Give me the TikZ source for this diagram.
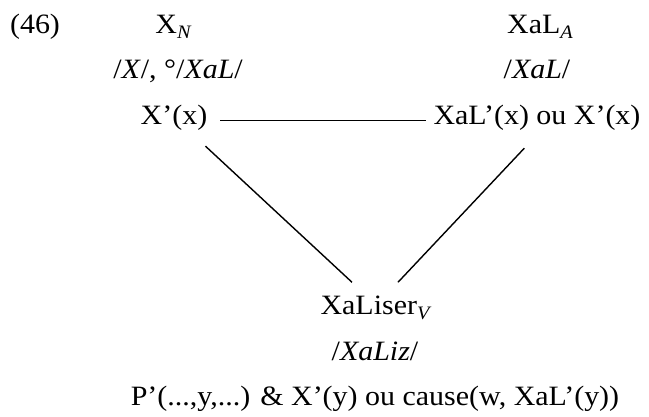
\documentclass[tikz,border=0pt]{standalone}
\usepackage{fontspec}
\setmainfont{Liberation Serif}[FakeStretch=1.07]
\usetikzlibrary{calc}
\newcommand{\lsub}[1]{\raisebox{-5pt}{\fontsize{19}{19}\selectfont\itshape #1}}
\begin{document}
\begin{tikzpicture}[x=1pt,y=-1pt,
  every node/.style={font=\fontsize{28}{32}\selectfont, inner sep=1pt, anchor=base},
  link/.style={line width=1.4pt}]
\useasboundingbox (0,0) rectangle (649,416);
\node (num) at (35,33) {(46)};
\node (xn) at (173,33) {X\lsub{N}};
\node (xa) at (540,33) {XaL\lsub{A}};
\node (xnph) at (178,78) {/\textit{X}/, °/\textit{XaL}/};
\node (xaph) at (537,78) {/\textit{XaL}/};
\node (xl) at (174,124) {X’(x)};
\node (xal) at (537,124) {XaL’(x) ou X’(x)};
\node (v) at (375,314) {XaLiser\lsub{V}};
\node (vph) at (375,360) {/\textit{XaLiz}/};
\node (vsem) at (375,405) {P’(...,y,...) \& X’(y) ou cause(w, XaL’(y))};
\draw[link] ($(xl.east)+(12,3)$) -- ($(xal.west)+(-6,3)$);
\draw[link] ($(xl.south east)+(-3,15)$) -- ($(v.north)+(-23,-12)$);
\draw[link] ($(xal.south west)+(92,17)$) -- ($(v.north)+(23,-12)$);
\end{tikzpicture}
\end{document}
